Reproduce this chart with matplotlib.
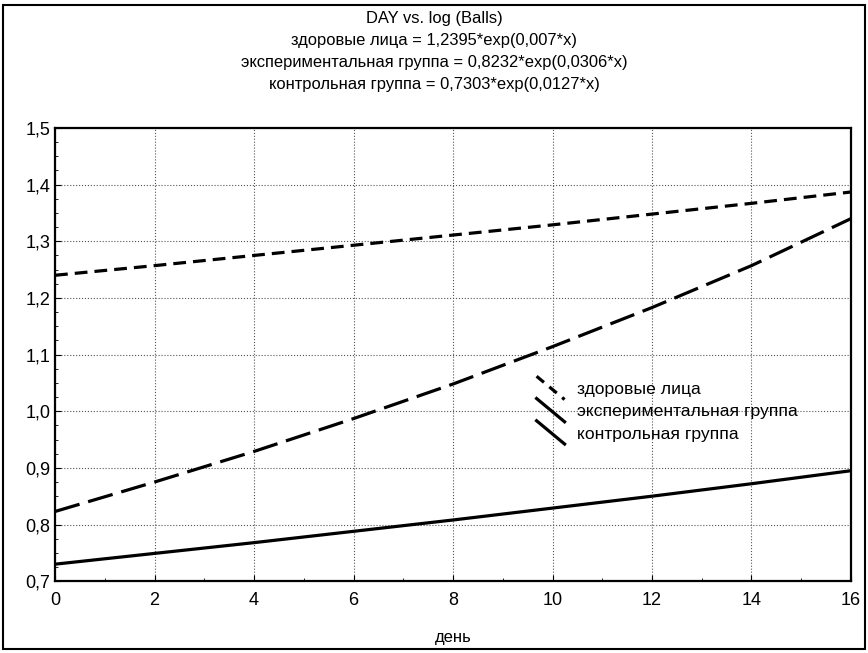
import numpy as np
import matplotlib.pyplot as plt
from matplotlib.patches import Rectangle
from matplotlib.lines import Line2D
from matplotlib.legend_handler import HandlerBase
from matplotlib.ticker import MultipleLocator, FuncFormatter

plt.rcParams['font.family'] = ['Liberation Sans', 'DejaVu Sans']

# значения (день 0..16, шаг 2)
days = [0, 2, 4, 6, 8, 10, 12, 14, 16]
zdorovye = [1.240, 1.257, 1.275, 1.293, 1.311, 1.329, 1.348, 1.367, 1.387]
eksper = [0.823, 0.875, 0.929, 0.987, 1.048, 1.114, 1.183, 1.257, 1.340]
kontrol = [0.730, 0.749, 0.768, 0.788, 0.808, 0.829, 0.850, 0.872, 0.895]


# диагональные значки в легенде, как в оригинале
class DiagHandler(HandlerBase):
    def create_artists(self, legend, orig, xdescent, ydescent, width, height, fontsize, trans):
        ln = Line2D([-xdescent, -xdescent + width], [height * 1.45, -height * 0.45])
        ln.update_from(orig)
        if orig.get_label() == 'экспериментальная группа':
            ln.set_linestyle('-')
        elif orig.get_label() == 'здоровые лица':
            ln.set_dashes((3, 2.2))
        ln.set_transform(trans)
        return [ln]


fig = plt.figure(figsize=(8.68, 6.53), dpi=100)
ax = fig.add_axes([0.0634, 0.110, 0.917, 0.694])

ax.plot(days, zdorovye, color='black', linewidth=2.3, dashes=(4, 2.2), label='здоровые лица')
ax.plot(days, eksper, color='black', linewidth=2.3, dashes=(8, 2.8), label='экспериментальная группа')
ax.plot(days, kontrol, color='black', linewidth=2.3, label='контрольная группа')

ax.set_xlim(0, 16)
ax.set_ylim(0.7, 1.5)
ax.xaxis.set_major_locator(MultipleLocator(2))
ax.xaxis.set_minor_locator(MultipleLocator(1))
ax.yaxis.set_major_locator(MultipleLocator(0.1))
ax.yaxis.set_minor_locator(MultipleLocator(0.025))
ax.yaxis.set_major_formatter(FuncFormatter(lambda v, p: f'{v:.1f}'.replace('.', ',')))
ax.tick_params(which='both', direction='in', labelsize=13)
ax.tick_params(which='major', length=4)
ax.tick_params(which='minor', length=2)
ax.tick_params(axis='x', pad=8)
ax.grid(True, which='major', linestyle=':', color='#555555', linewidth=0.8)
for s in ax.spines.values():
    s.set_linewidth(1.6)

ax.set_xlabel('день', fontsize=12, labelpad=15)

fs = 11.9
fig.text(0.5, 0.972, 'DAY vs. log (Balls)', ha='center', va='center', fontsize=fs)
fig.text(0.5, 0.938, 'здоровые лица = 1,2395*exp(0,007*x)', ha='center', va='center', fontsize=fs)
fig.text(0.5, 0.904, 'экспериментальная группа = 0,8232*exp(0,0306*x)', ha='center', va='center', fontsize=fs)
fig.text(0.5, 0.870, 'контрольная группа = 0,7303*exp(0,0127*x)', ha='center', va='center', fontsize=fs)

ax.legend(loc='upper left', bbox_to_anchor=(0.605, 0.44), frameon=False, fontsize=12.6,
          handlelength=1.6, handletextpad=0.7, labelspacing=0.4, borderpad=0, borderaxespad=0,
          handler_map={Line2D: DiagHandler()})

fig.patches.append(Rectangle((0.004, 0.006), 0.992, 0.986, transform=fig.transFigure,
                             fill=False, edgecolor='black', linewidth=1.5))

fig.savefig('out.png', dpi=100)
